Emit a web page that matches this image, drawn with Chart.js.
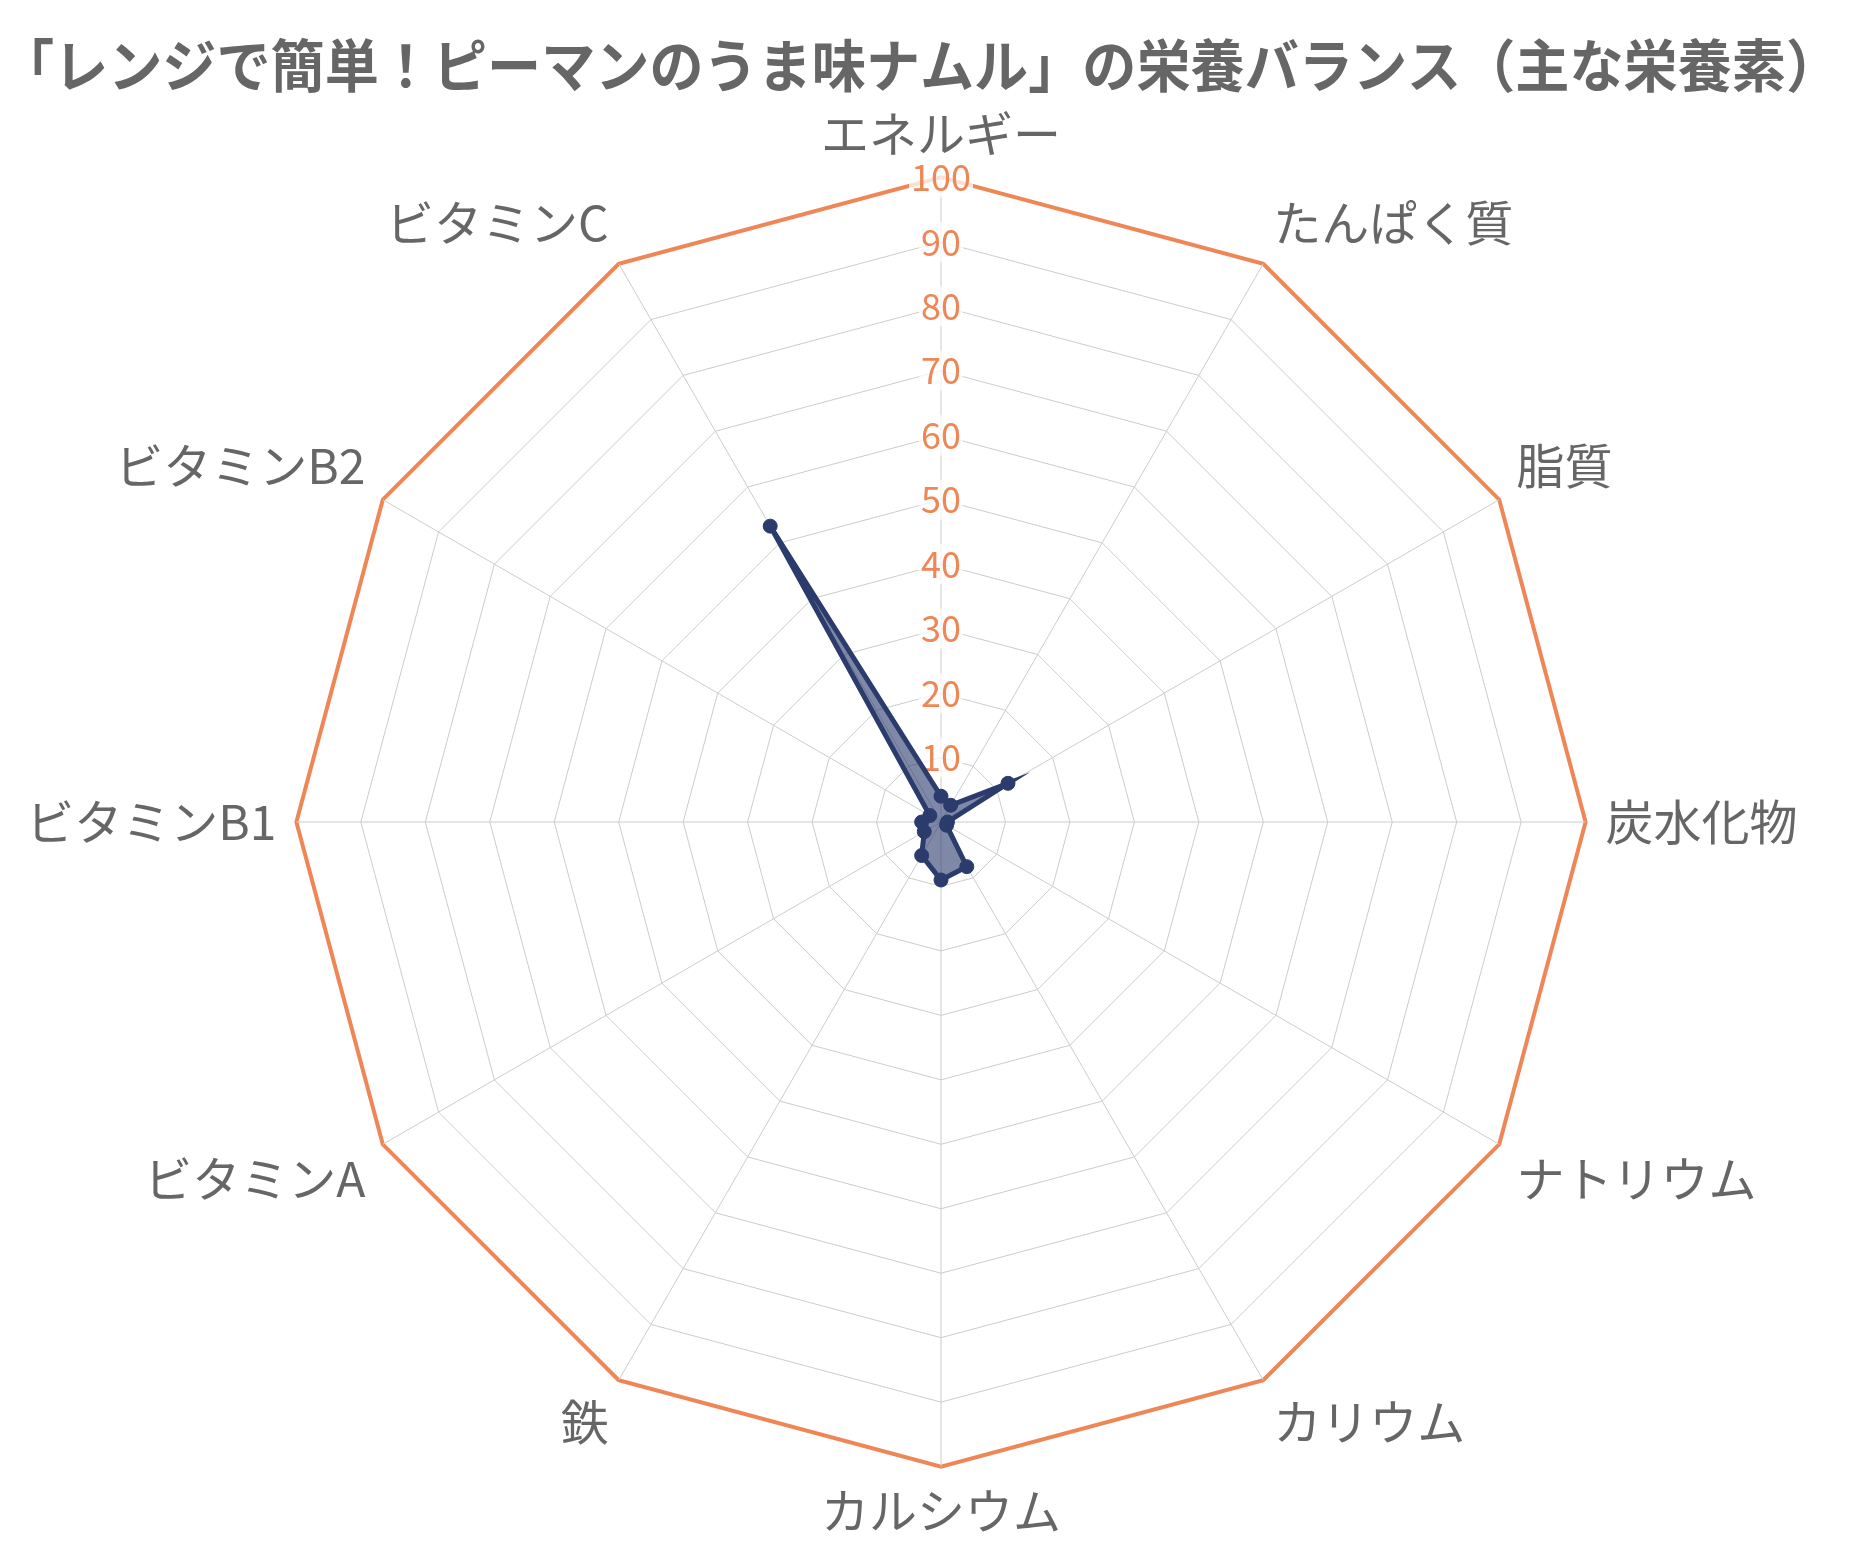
<!DOCTYPE html>
<html>
<head>
<meta charset="utf-8">
<script src="https://cdn.jsdelivr.net/npm/chart.js@4/dist/chart.umd.min.js"></script>
<style>
html,body{margin:0;padding:0;background:#fff;}
#wrap{width:1870px;height:1550px;position:relative;}
</style>
</head>
<body>
<div id="wrap"><canvas id="c"></canvas></div>
<script>
const titleText = "「レンジで簡単！ピーマンのうま味ナムル」の栄養バランス（主な栄養素）";
const categories = ["エネルギー","たんぱく質","脂質","炭水化物","ナトリウム","カリウム","カルシウム","鉄","ビタミンA","ビタミンB1","ビタミンB2","ビタミンC"];
const seriesName = "充足率(%)";
const values = [4, 3, 12, 1, 1, 8, 9, 6, 3, 3, 2, 53];
const scaleMin = 0, scaleMax = 100, scaleStep = 10;

const FONT = "'Noto Sans CJK JP','Noto Sans',sans-serif";
const ORANGE = "rgb(238,134,86)";
const NAVY = "rgb(42,59,108)";

new Chart(document.getElementById('c'), {
  type: 'radar',
  data: {
    labels: categories,
    datasets: [{
      label: seriesName,
      data: values,
      borderColor: NAVY,
      backgroundColor: "rgba(42,59,108,0.6)",
      borderWidth: 5,
      pointRadius: 7,
      pointBackgroundColor: NAVY,
      pointBorderColor: NAVY,
      pointBorderWidth: 1
    }]
  },
  options: {
    responsive: true,
    maintainAspectRatio: false,
    animation: false,
    layout: { padding: { left: 0, right: 30, top: 0, bottom: 14 } },
    plugins: {
      legend: { display: false },
      tooltip: { enabled: false },
      title: {
        display: true,
        text: titleText,
        color: "#666",
        font: { family: FONT, size: 57, weight: 'bold' },
        padding: { top: 31, bottom: 10 }
      }
    },
    scales: {
      r: {
        min: scaleMin, max: scaleMax,
        angleLines: { color: "#cccccc", lineWidth: 1 },
        grid: {
          color: (ctx) => ctx.tick && ctx.tick.value === scaleMax ? ORANGE : "#cccccc",
          lineWidth: (ctx) => ctx.tick && ctx.tick.value === scaleMax ? 4 : 1
        },
        ticks: {
          stepSize: scaleStep,
          color: ORANGE,
          font: { family: FONT, size: 36, lineHeight: 0.6 },
          backdropColor: "rgba(255,255,255,0.75)",
          backdropPadding: 2
        },
        pointLabels: {
          color: "#666",
          font: { family: FONT, size: 48, lineHeight: 1.0 },
          padding: 0
        }
      }
    }
  }
});
</script>
</body>
</html>
